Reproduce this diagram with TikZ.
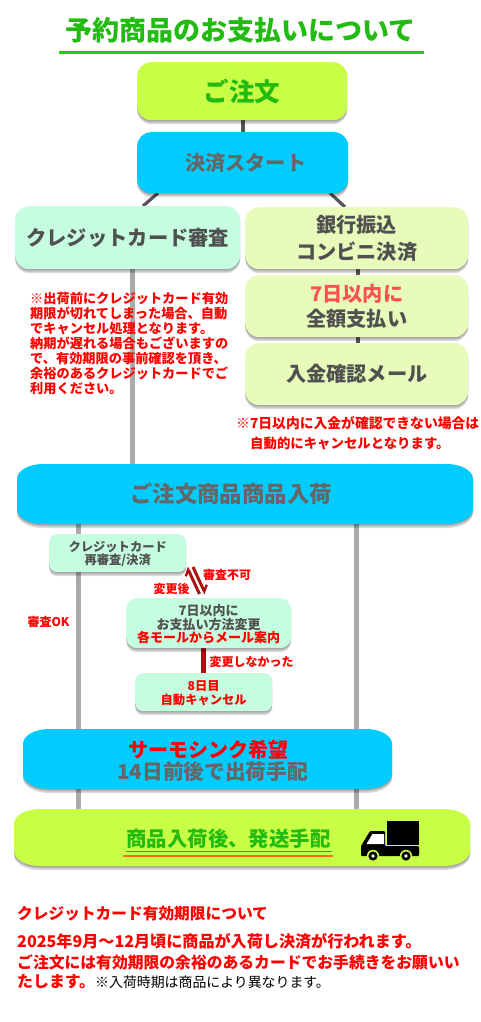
\documentclass[tikz,border=0pt]{standalone}
\usepackage{fontspec}
\setmainfont{Noto Sans CJK JP}
\usetikzlibrary{shadows,backgrounds,arrows.meta}
\definecolor{lime}{HTML}{C8FF46}
\definecolor{sky}{HTML}{00CCFF}
\definecolor{mint}{HTML}{C6FCE0}
\definecolor{pale}{HTML}{E8FBBB}
\definecolor{titlegreen}{HTML}{22BB11}
\definecolor{inkgray}{HTML}{505050}
\definecolor{midgray}{HTML}{666666}
\definecolor{linedark}{HTML}{555555}
\definecolor{linegray}{HTML}{AAAAAA}
\definecolor{darkred}{HTML}{AA1111}
\definecolor{softred}{HTML}{FF5050}
\definecolor{rulegreen}{HTML}{22CC11}
\definecolor{orangeline}{HTML}{FF6622}
\newcommand{\fsz}[2]{\fontsize{#1}{#2}\selectfont\bfseries}
\newcommand{\pillpath}[6]{%
  \path[softshadow,fill=#6] (#2+26,#3) -- (#4-26,#3)
    arc[start angle=270,end angle=360,x radius=26,y radius=15] -- (#4,#5-15)
    arc[start angle=0,end angle=90,x radius=26,y radius=15] -- (#2+26,#5)
    arc[start angle=90,end angle=180,x radius=26,y radius=15] -- (#2,#3+15)
    arc[start angle=180,end angle=270,x radius=26,y radius=15] -- cycle;
  \node[inner sep=0pt,minimum width=#4-#2,minimum height=#5-#3,anchor=north west] (#1) at (#2,#3) {};
}
\tikzset{
  softshadow/.style={
    general shadow={shadow xshift=0pt,shadow yshift=-1pt,fill=black,opacity=.14},
    general shadow={shadow xshift=0pt,shadow yshift=-2.5pt,fill=black,opacity=.14},
    general shadow={shadow xshift=0pt,shadow yshift=-4pt,fill=black,opacity=.14}},
  box/.style={softshadow,rounded corners=#1,inner sep=0pt,align=center,anchor=north west},
  box/.default=14pt,
  txt/.style={inner sep=0pt,align=center},
  left txt/.style={inner sep=0pt,align=left,anchor=west},
  con dark/.style={draw=linedark,line width=4.5pt},
  con gray/.style={draw=linegray,line width=5pt},
  con red/.style={draw=darkred,line width=5pt},
  harpoon/.style={draw=darkred,line width=3pt,-{Straight Barb[left,length=5pt,width=10pt,line width=2.4pt]}},
}
\begin{document}
\begin{tikzpicture}[x=1pt,y=-1pt]
\useasboundingbox (0,0) rectangle (480,1022);
% title
\node[txt,text=titlegreen,font={\fsz{27}{30}}] (title) at (240.5,30) {予約商品のお支払いについて};
\coordinate (ruleL) at (59,52.5);
\coordinate (ruleR) at (424,52.5);
\draw[rulegreen,line width=2.4pt] (ruleL) -- (ruleR);
% top boxes
\node[box,fill=lime,minimum width=210pt,minimum height=58pt,text=titlegreen,font={\fsz{25.5}{28}}] (order) at (137,62) {ご注文};
\node[box,fill=sky,minimum width=211pt,minimum height=61pt,text=midgray,font={\fsz{20.2}{24}}] (start) at (137,132) {\hspace{6pt}決済スタート};
\node[box,fill=mint,minimum width=225pt,minimum height=63pt,text=inkgray,font={\fsz{20.3}{24}}] (credit) at (15,206) {クレジットカード審査};
\node[box,fill=pale,minimum width=223pt,minimum height=62pt,text=inkgray,font={\fsz{20.2}{27}}] (bank) at (245,207) {銀行振込\\コンビニ決済};
\node[box,fill=pale,minimum width=223pt,minimum height=62pt,text=inkgray,font={\fsz{20.2}{25}}] (week) at (245,275) {{\color{softred}7日以内に}\\全額支払い};
\node[box,fill=pale,minimum width=223pt,minimum height=62pt,text=inkgray,font={\fsz{20.2}{24}}] (mail) at (245,343) {入金確認メール};
% notes
\node[left txt,text=red,font={\fsz{13.2}{15}}] (noteA) at (30,344) {※出荷前にクレジットカード有効\\期限が切れてしまった場合、自動\\でキャンセル処理となります。\\納期が遅れる場合もございますの\\で、有効期限の事前確認を頂き、\\余裕のあるクレジットカードでご\\利用ください。};
\node[left txt,text=red,font={\fsz{13.8}{16}}] (noteB) at (236,423) {※7日以内に入金が確認できない場合は};
\node[left txt,text=red,font={\fsz{13.4}{16}}] (noteC) at (250,444) {自動的にキャンセルとなります。};
% arrival
\pillpath{arrive}{17}{464}{473}{524}{sky}
\node[txt,text=midgray,font={\fsz{22.4}{26}}] (arriveT) at (231,494) {ご注文商品商品入荷};
% small boxes
\node[box=8pt,fill=mint,minimum width=137pt,minimum height=38pt,text=inkgray,font={\fsz{12.3}{13}}] (recheck) at (49,534) {\rule{0pt}{11pt}クレジットカード\\再審査/決済};
\node[box=11pt,fill=mint,minimum width=165pt,minimum height=50pt,text=inkgray,font={\fsz{13}{13.7}}] (change) at (126,598) {\rule{0pt}{13pt}7日以内に\\お支払い方法変更\\{\color{red}各モールからメール案内}};
\node[box=8pt,fill=mint,minimum width=137pt,minimum height=38pt,text=red,font={\fsz{12.3}{13.5}}] (cancel) at (135,673) {\rule{0pt}{12pt}8日目\\自動キャンセル};
\node[txt,text=red,font={\fsz{12}{14}}] (lblNG) at (227,575) {審査不可};
\node[txt,text=red,font={\fsz{12}{14}}] (lblAfter) at (171.5,589) {変更後};
\node[txt,text=red,font={\fsz{12}{14}}] (lblOK) at (48.5,622) {審査OK};
\node[txt,text=red,font={\fsz{12}{14}}] (lblNo) at (251.5,662) {変更しなかった};
% thermo
\pillpath{thermo}{23}{729}{392}{789}{sky}
\node[txt,text=midgray,font={\fsz{20.7}{22}}] (thermoT) at (212.5,761) {{\color{red}\fontsize{20}{22}\selectfont\bfseries サーモシンク希望\hspace{9pt}}\\14日前後で出荷手配};
% ship
\pillpath{ship}{14}{809}{470}{866}{lime}
\node[txt,text=titlegreen,font={\fsz{20.4}{24}}] (shipT) at (228.5,839) {商品入荷後、発送手配};
\coordinate (ulA) at (126,851);
\coordinate (ulB) at (332,851);
\coordinate (ulC) at (123,856);
\coordinate (ulD) at (333,856);
\draw[titlegreen,line width=.8pt] (ulA) -- (ulB);
\draw[orangeline,line width=2pt] (ulC) -- (ulD);
% truck
\fill[black] (387,821) rectangle (419,845);
\fill[black,rounded corners=1pt] (361,856) -- (361,846) -- (370,831) -- (385,831) -- (385,846) -- (419,846) -- (419,856) -- cycle;
\fill[white] (366.5,844) -- (372.5,834) -- (384,834) -- (384,844) -- cycle;
\foreach \wx in {373,406}{
  \fill[lime] (\wx,856) circle[radius=6.2];
  \fill[black] (\wx,856) circle[radius=4.6];
  \fill[white] (\wx,856) circle[radius=1.9];
}
% bottom text
\node[left txt,text=red,font={\fsz{15.7}{18}}] (infoHead) at (17,914) {クレジットカード有効期限について};
\node[left txt,text=red,font={\fsz{16.1}{18}}] (infoA) at (17,941) {2025年9月～12月頃に商品が入荷し決済が行われます。};
\node[left txt,text=red,font={\fsz{15.8}{18}}] (infoB) at (17,962) {ご注文には有効期限の余裕のあるカードでお手続きをお願いい};
\node[left txt,text=red,font={\fsz{15.9}{18}}] (infoC) at (17,982) {たします。};
\node[left txt,text=black,font={\fontsize{13.9}{16}\selectfont}] (infoD) at (95,982) {※入荷時期は商品により異なります。};
% connectors
\coordinate (xA) at (243,0);
\coordinate (xB) at (132,0);
\coordinate (xC) at (358,0);
\coordinate (xD) at (78,0);
\coordinate (xE) at (356,0);
\coordinate (xF) at (203,0);
\coordinate (diagA1) at (158,193);
\coordinate (diagA2) at (143,206);
\coordinate (diagB1) at (330,193);
\coordinate (diagB2) at (345,207);
\coordinate (hpA1) at (199.5,594);
\coordinate (hpA2) at (187,567);
\coordinate (hpB1) at (193,567);
\coordinate (hpB2) at (205.5,594);
\begin{scope}[on background layer]
  \fill[white] (0,0) rectangle (480,1022);
  \draw[con dark] (order.south -| xA) -- (start.north -| xA);
  \draw[con dark,line width=3.2pt] (diagA1) -- (diagA2);
  \draw[con dark,line width=3.2pt] (diagB1) -- (diagB2);
  \draw[con gray] (credit.south -| xB) -- (arrive.north -| xB);
  \draw[con dark,line width=4pt] (bank.south -| xC) -- (week.north -| xC);
  \draw[con dark,line width=4pt] (week.south -| xC) -- (mail.north -| xC);
  \draw[con gray] (arrive.south -| xD) -- (recheck.north -| xD);
  \draw[con gray] (recheck.south -| xD) -- (thermo.north -| xD);
  \draw[con gray] (arrive.south -| xE) -- (thermo.north -| xE);
  \draw[con gray] (thermo.south -| xD) -- (ship.north -| xD);
  \draw[con gray] (thermo.south -| xE) -- (ship.north -| xE);
  \draw[con red] (change.south -| xF) -- (cancel.north -| xF);
  \draw[harpoon] (hpA1) -- (hpA2);
  \draw[harpoon] (hpB1) -- (hpB2);
\end{scope}
\end{tikzpicture}
\end{document}
